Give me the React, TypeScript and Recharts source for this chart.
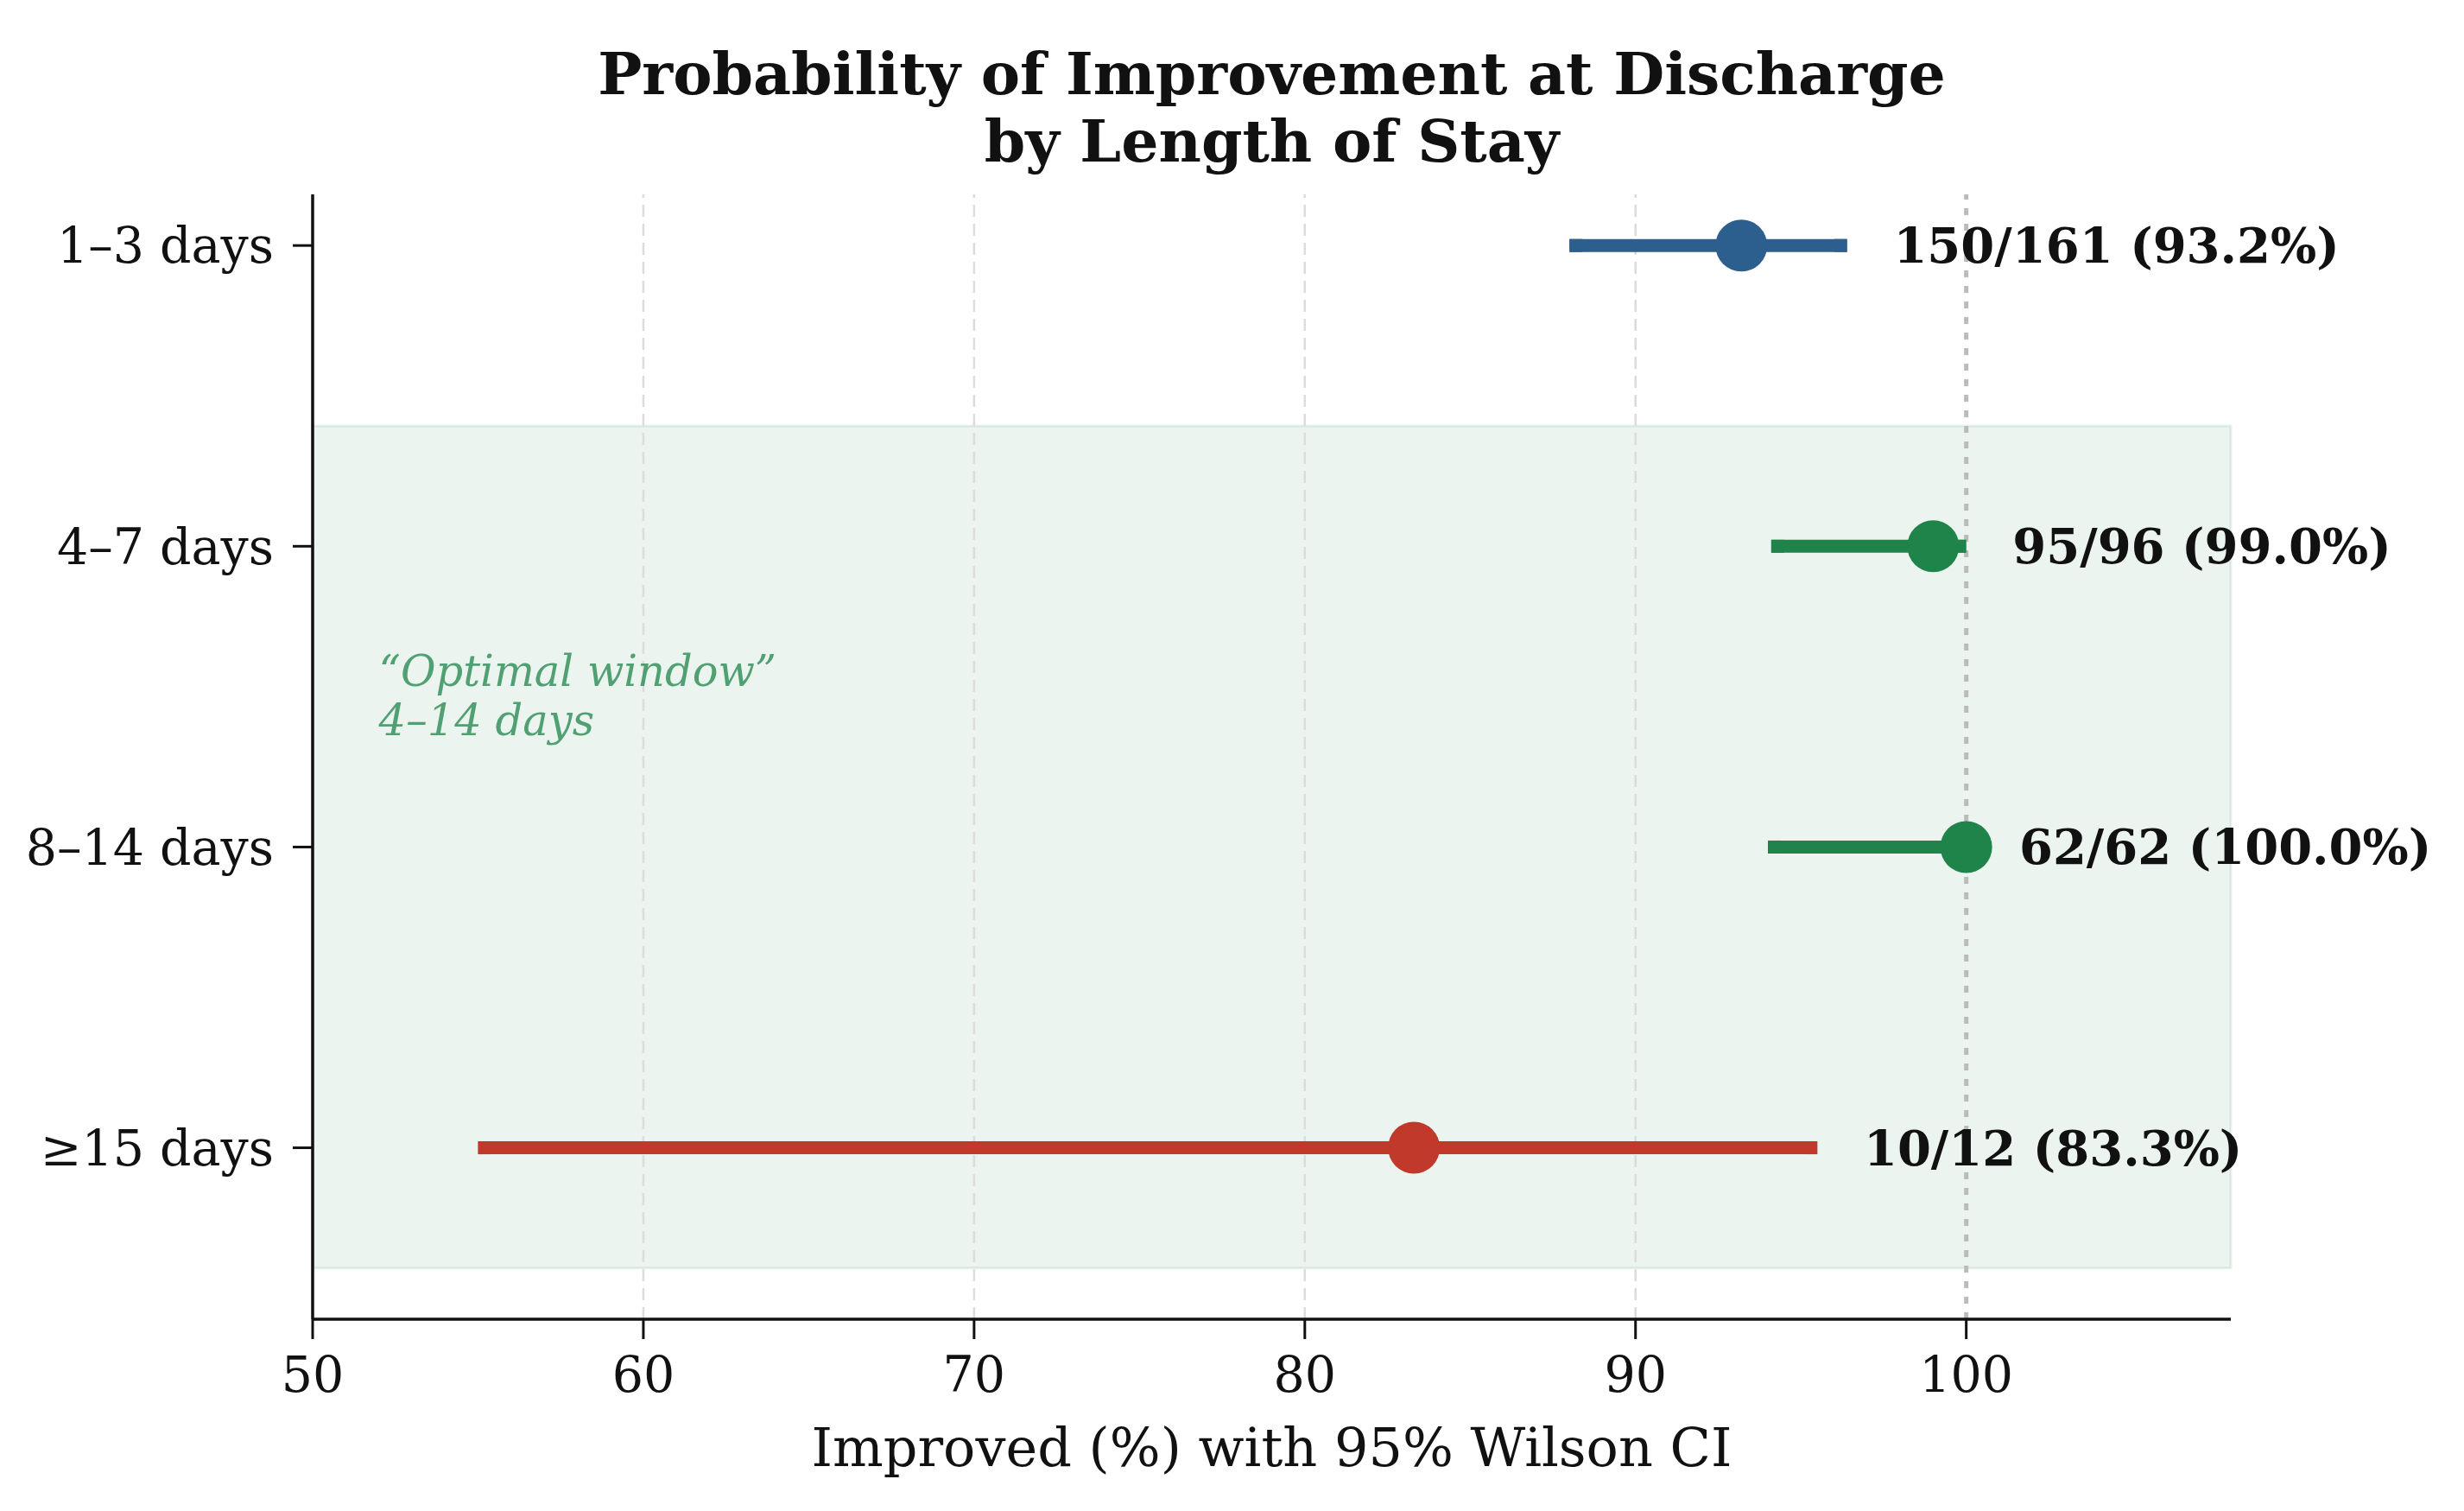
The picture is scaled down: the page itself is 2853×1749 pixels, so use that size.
import React from 'react';
import { ScatterChart, Scatter, XAxis, YAxis, ReferenceArea, ReferenceLine, ErrorBar } from 'recharts';

// Length-of-stay groups, top to bottom
const stayGroups = ['1–3 days', '4–7 days', '8–14 days', '≥15 days'];
const improvedCounts = [150, 95, 62, 10];
const totalCounts = [161, 96, 62, 12];
const pctImproved = [93.2, 99.0, 100.0, 83.3];
// 95% Wilson CI bounds
const ciLow = [88.2, 94.3, 94.2, 55.2];
const ciHigh = [96.2, 99.8, 100.0, 95.3];
const groupColors = ['#2c5f8d', '#1e8449', '#1e8449', '#c0392b'];
const xTicks = [50, 60, 70, 80, 90, 100];
const yTicks = [0, 1, 2, 3];

const FONT = "'DejaVu Serif', serif";
const W = 2853;
const H = 1749;

const rows = stayGroups.map((g, i) => ({
  x: pctImproved[i],
  y: i,
  err: [pctImproved[i] - ciLow[i], ciHigh[i] - pctImproved[i]],
}));

const labelRows = stayGroups.map((g, i) => ({
  x: Math.max(ciHigh[i], pctImproved[i]) + 1.6,
  y: i,
  text: `${improvedCounts[i]}/${totalCounts[i]} (${pctImproved[i].toFixed(1)}%)`,
}));

const noteRow = [{ x: 52, y: 1.5 }];

const ValueLabel = (props: any) => (
  <text
    x={props.cx}
    y={props.cy}
    dominantBaseline="central"
    fontFamily={FONT}
    fontWeight="bold"
    fontSize={56}
    fill="#111"
  >
    {props.payload.text}
  </text>
);

const NoteLabel = (props: any) => (
  <text fontFamily={FONT} fontStyle="italic" fontSize={49.5} fill="#1e8449" fillOpacity={0.75}>
    <tspan x={props.cx} y={props.cy - 29} dominantBaseline="central">“Optimal window”</tspan>
    <tspan x={props.cx} y={props.cy + 28} dominantBaseline="central">4–14 days</tspan>
  </text>
);

export default function App() {
  return (
    <div style={{ position: 'absolute', left: 0, top: 0, width: W, height: H, background: '#fff', fontFamily: FONT }}>
      <div
        style={{
          position: 'absolute',
          left: 362,
          width: 2221,
          top: 46,
          textAlign: 'center',
          fontSize: 68,
          lineHeight: '78px',
          fontWeight: 'bold',
          color: '#111',
        }}
      >
        Probability of Improvement at Discharge
        <br />
        by Length of Stay
      </div>
      <ScatterChart width={W} height={H} margin={{ top: 225, right: 270, left: 0, bottom: 0 }}>
        <XAxis
          type="number"
          dataKey="x"
          domain={[50, 108]}
          ticks={xTicks}
          height={222}
          tickSize={23}
          tickMargin={21}
          axisLine={{ stroke: '#111', strokeWidth: 3.5 }}
          tickLine={{ stroke: '#111', strokeWidth: 3 }}
          tick={{ fill: '#111', fontSize: 57, fontFamily: FONT }}
          label={{ value: 'Improved (%) with 95% Wilson CI', position: 'insideBottom', offset: 52, fill: '#111', fontSize: 62, fontFamily: FONT }}
        />
        <YAxis
          type="number"
          dataKey="y"
          domain={[-0.17, 3.57]}
          reversed
          ticks={yTicks}
          width={362}
          tickSize={23}
          tickMargin={22}
          tickFormatter={(v: number) => stayGroups[v]}
          axisLine={{ stroke: '#111', strokeWidth: 3.5 }}
          tickLine={{ stroke: '#111', strokeWidth: 3 }}
          tick={{ fill: '#111', fontSize: 57, fontFamily: FONT }}
        />
        {xTicks
          .filter(t => t > 50 && t < 100)
          .map(t => (
            <ReferenceLine key={t} x={t} stroke="#dcdcdc" strokeWidth={2.5} strokeDasharray="14 8" />
          ))}
        <ReferenceArea
          x1={50}
          x2={108}
          y1={0.6}
          y2={3.4}
          fill="#1e8449"
          fillOpacity={0.09}
          stroke="#1e8449"
          strokeOpacity={0.1}
          strokeWidth={3}
        />
        <ReferenceLine x={100} stroke="#bbbbbb" strokeWidth={5} strokeDasharray="8 10" />
        {rows.map((r, i) => (
          <Scatter
            key={stayGroups[i]}
            data={[r]}
            fill={groupColors[i]}
            isAnimationActive={false}
            shape={(p: any) => <circle cx={p.cx} cy={p.cy} r={30} fill={groupColors[i]} />}
          >
            <ErrorBar
              dataKey="err"
              direction="x"
              width={0}
              stroke={groupColors[i]}
              strokeWidth={15}
              strokeLinecap="square"
              isAnimationActive={false}
            />
          </Scatter>
        ))}
        <Scatter data={labelRows} isAnimationActive={false} shape={ValueLabel} />
        <Scatter data={noteRow} isAnimationActive={false} shape={NoteLabel} />
      </ScatterChart>
    </div>
  );
}
